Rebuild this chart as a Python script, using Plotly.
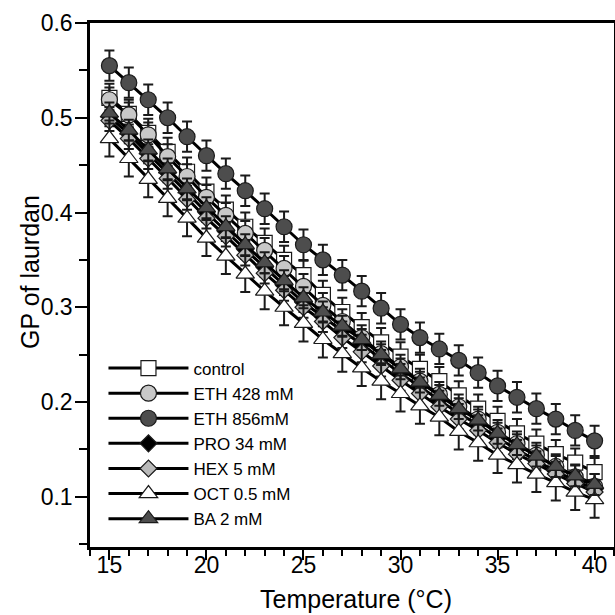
import plotly.graph_objects as go

# Temperature (°C), one reading per degree
temperature = list(range(15, 41))

control = [0.521, 0.504, 0.484, 0.464, 0.443, 0.422, 0.403, 0.385, 0.368, 0.350,
           0.334, 0.313, 0.295, 0.279, 0.263, 0.248, 0.235, 0.222, 0.207, 0.193,
           0.180, 0.167, 0.156, 0.145, 0.136, 0.126]
eth_428 = [0.519, 0.503, 0.482, 0.459, 0.438, 0.416, 0.397, 0.378, 0.360, 0.341,
           0.322, 0.302, 0.285, 0.268, 0.251, 0.237, 0.222, 0.208, 0.195, 0.182,
           0.168, 0.156, 0.144, 0.132, 0.121, 0.111]
eth_856 = [0.555, 0.537, 0.519, 0.500, 0.480, 0.460, 0.441, 0.423, 0.404, 0.385,
           0.366, 0.350, 0.334, 0.317, 0.299, 0.282, 0.268, 0.256, 0.244, 0.231,
           0.217, 0.205, 0.193, 0.182, 0.170, 0.159]
pro_34 = [0.501, 0.483, 0.462, 0.442, 0.421, 0.400, 0.380, 0.361, 0.342, 0.323,
          0.305, 0.290, 0.275, 0.261, 0.245, 0.230, 0.216, 0.202, 0.188, 0.176,
          0.162, 0.150, 0.138, 0.127, 0.117, 0.108]
hex_5 = [0.497, 0.478, 0.457, 0.436, 0.414, 0.394, 0.375, 0.355, 0.336, 0.318,
         0.300, 0.285, 0.268, 0.253, 0.238, 0.223, 0.209, 0.195, 0.182, 0.170,
         0.157, 0.145, 0.135, 0.124, 0.114, 0.105]
oct_05 = [0.478, 0.457, 0.435, 0.415, 0.394, 0.373, 0.354, 0.335, 0.317, 0.300,
          0.283, 0.266, 0.251, 0.236, 0.222, 0.209, 0.196, 0.184, 0.169, 0.157,
          0.144, 0.134, 0.124, 0.115, 0.105, 0.097]
ba_2 = [0.505, 0.487, 0.466, 0.446, 0.425, 0.405, 0.385, 0.366, 0.347, 0.328,
        0.310, 0.295, 0.280, 0.266, 0.250, 0.235, 0.221, 0.207, 0.193, 0.181,
        0.167, 0.155, 0.143, 0.132, 0.122, 0.113]

# standard deviation per series
errors = {
    'control': 0.015,
    'ETH 428 mM': 0.013,
    'ETH 856mM': 0.016,
    'PRO 34 mM': 0.010,
    'HEX 5 mM': 0.011,
    'OCT 0.5 mM': 0.019,
    'BA 2 mM': 0.011,
}

series = [
    ('control', control, 'square', 'white', 15),
    ('ETH 428 mM', eth_428, 'circle', '#c8c8c8', 16),
    ('ETH 856mM', eth_856, 'circle', '#4d4d4d', 16),
    ('PRO 34 mM', pro_34, 'diamond', 'black', 13),
    ('HEX 5 mM', hex_5, 'diamond', '#b9b9b9', 13),
    ('OCT 0.5 mM', oct_05, 'triangle-up', 'white', 16),
    ('BA 2 mM', ba_2, 'triangle-up', '#4d4d4d', 16),
]

FONT = 'Liberation Sans, Arial, sans-serif'

fig = go.Figure()

for name, values, symbol, fill, size in series:
    fig.add_trace(go.Scatter(
        x=temperature,
        y=values,
        name=name,
        mode='lines+markers',
        line=dict(color='black', width=3),
        marker=dict(symbol=symbol, size=size, color=fill,
                    line=dict(color='#1a1a1a', width=1.2)),
        error_y=dict(type='constant', value=errors[name], color='#1a1a1a',
                     thickness=2, width=5),
    ))

axis_style = dict(
    showline=True,
    linecolor='black',
    linewidth=2.5,
    mirror=True,
    showgrid=False,
    zeroline=False,
    automargin=False,
    ticks='outside',
    tickwidth=2,
    tickcolor='black',
    tickfont=dict(family=FONT, size=23, color='black'),
)

fig.update_xaxes(
    range=[14, 41],
    tickvals=[15, 20, 25, 30, 35, 40],
    ticklen=10,
    ticklabelstandoff=-14,
    minor=dict(dtick=1, tick0=14, ticks='outside', ticklen=6, tickwidth=2, tickcolor='black'),
    **axis_style
)

fig.update_yaxes(
    range=[0.047, 0.6],
    tickvals=[0.1, 0.2, 0.3, 0.4, 0.5, 0.6],
    ticktext=['0.1', '0.2', '0.3', '0.4', '0.5', '0.6'],
    ticklen=12,
    ticklabelstandoff=-2,
    minor=dict(tickvals=[0.05, 0.15, 0.25, 0.35, 0.45, 0.55], ticks='outside',
               ticklen=8, tickwidth=2, tickcolor='black'),
    **axis_style
)

# axis titles
fig.add_annotation(text='Temperature (°C)', xref='paper', yref='paper',
                   x=0.508, y=-0.1, xanchor='center', yanchor='middle',
                   showarrow=False, font=dict(family=FONT, size=25, color='black'))
fig.add_annotation(text='GP of laurdan', xref='paper', yref='paper',
                   x=-0.1145, y=0.525, xanchor='center', yanchor='middle',
                   textangle=-90, showarrow=False,
                   font=dict(family=FONT, size=25, color='black'))

fig.update_layout(
    width=615,
    height=615,
    margin=dict(l=90, r=1, t=23, b=68),
    plot_bgcolor='white',
    paper_bgcolor='white',
    showlegend=True,
    legend=dict(
        x=0.0257,
        y=0.02,
        xanchor='left',
        yanchor='bottom',
        bgcolor='rgba(0,0,0,0)',
        font=dict(family=FONT, size=17, color='black'),
        tracegroupgap=0,
        itemwidth=80,
    ),
)

# drop the browser's default body margin so the figure fills the window
fig.write_html("out.html", config={'displayModeBar': False},
               post_script="document.body.style.margin = '0';")
